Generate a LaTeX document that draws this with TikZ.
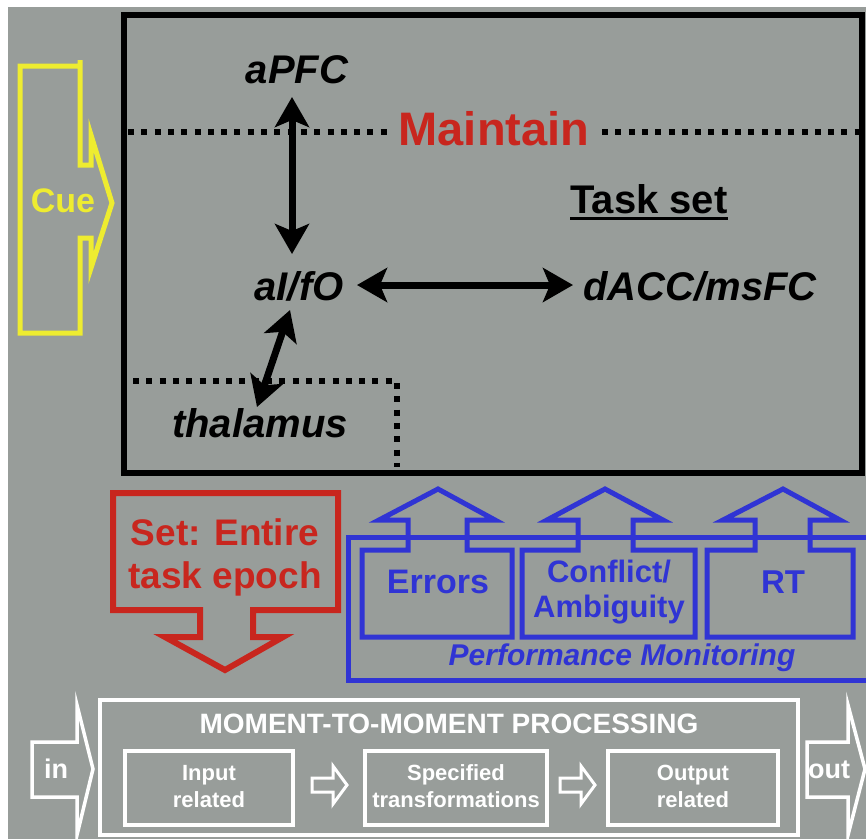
\documentclass[tikz,border=0pt]{standalone}
\usepackage{fontspec}
\setmainfont{Liberation Sans}
\usetikzlibrary{arrows.meta,calc}
\definecolor{bg}{RGB}{152,157,154}
\definecolor{cueyellow}{RGB}{238,236,48}
\definecolor{setred}{RGB}{200,38,30}
\definecolor{pmblue}{RGB}{48,52,212}
\begin{document}
\begin{tikzpicture}[x=1pt,y=-1pt,
  region/.style={font=\bfseries\itshape\fontsize{40}{44}\selectfont,inner sep=0pt,anchor=base},
  dbl/.style={line width=7pt,{Stealth[length=30pt,width=34pt,inset=7pt]}-{Stealth[length=30pt,width=34pt,inset=7pt]}},
  dots/.style={line width=6pt,dash pattern=on 6pt off 7.3pt,line cap=butt},
  cueshape/.style={draw=cueyellow,line width=5pt,line join=miter},
  redshape/.style={draw=setred,line width=6pt,line join=miter},
  blueshape/.style={draw=pmblue,line width=5pt,line join=miter},
  whiteshape/.style={draw=white,line width=3.5pt,line join=miter},
  bluetxt/.style={text=pmblue,inner sep=0pt,anchor=base,font=\bfseries\fontsize{33}{36}\selectfont},
  whitetxt/.style={text=white,inner sep=0pt,anchor=base,font=\bfseries\fontsize{22}{26}\selectfont}]
\useasboundingbox (0,0) rectangle (866,839);
\fill[white] (0,0) rectangle (866,839);
\fill[bg] (8,7) rectangle (866,839);

% task set box
\draw[line width=6pt] (124,15) rectangle (862,473);
\draw[dots] (128,132) -- (392,132);
\draw[dots] (602,132) -- (862,132);
\draw[dots] (133,381) -- (397,381) -- (397,467);

\node[region] (apfc) at (297,83) {aPFC};
\node[region] (aifo) at (299,300) {aI/fO};
\node[region] (dacc) at (700,300) {dACC/msFC};
\node[region] (thal) at (260,437) {thalamus};
\node[inner sep=0pt,anchor=base,text=setred,font=\bfseries\fontsize{47}{50}\selectfont] (maint) at (494,145) {Maintain};
\node[inner sep=0pt,anchor=base,font=\bfseries\fontsize{40}{44}\selectfont] (tset) at (649,213) {Task set};
\draw[line width=3pt] ($(tset.base west)+(0,5)$) -- ($(tset.base east)+(0,5)$);

\coordinate (v1) at (292,97);
\coordinate (v2) at (292,254);
\coordinate (h1) at (357,285);
\coordinate (h2) at (573,285);
\coordinate (d1) at (290,310);
\coordinate (d2) at (257,407);
\draw[dbl] (v1) -- (v2);
\draw[dbl] (h1) -- (h2);
\draw[dbl] (d1) -- (d2);

% cue arrow
\draw[cueshape] (80,60) -- (80,165) -- (91,165) -- (91,135) -- (112,203) -- (91,268) -- (91,238) -- (80,238) -- (80,333) -- (20,333) -- (20,66) -- (80,66);
\node[inner sep=0pt,anchor=base,text=cueyellow,font=\bfseries\fontsize{34}{36}\selectfont] (cue) at (63,212) {Cue};

% set arrow
\draw[redshape] (113,493) -- (338,493) -- (338,610) -- (253,610) -- (253,637) -- (283,637) -- (225,670) -- (165,637) -- (200,637) -- (200,610) -- (113,610) -- cycle;
\node[inner sep=0pt,anchor=base,text=setred,font=\bfseries\fontsize{37}{40}\selectfont] (setl1) at (225,545) {Set: Entire};
\node[inner sep=0pt,anchor=base,text=setred,font=\bfseries\fontsize{37}{40}\selectfont] (setl2) at (225,588) {task epoch};

% performance monitoring
\draw[blueshape] (870,537) -- (348,537) -- (348,680) -- (870,680);
\draw[blueshape] (362,550) -- (408,550) -- (408,520) -- (379,520) -- (438,489) -- (495,520) -- (467,520) -- (467,550) -- (512,550) -- (512,637) -- (362,637) -- cycle;
\draw[blueshape] (522,550) -- (578,550) -- (578,520) -- (547,520) -- (605,489) -- (663,520) -- (633,520) -- (633,550) -- (695,550) -- (695,637) -- (522,637) -- cycle;
\draw[blueshape] (707,550) -- (755,550) -- (755,520) -- (723,520) -- (783,489) -- (840,520) -- (810,520) -- (810,550) -- (853,550) -- (853,637) -- (707,637) -- cycle;
\node[bluetxt,font=\bfseries\fontsize{34}{36}\selectfont] (err) at (438,593) {Errors};
\node[bluetxt,font=\bfseries\fontsize{31}{34}\selectfont] (conf) at (609,582) {Conflict/};
\node[bluetxt,font=\bfseries\fontsize{31}{34}\selectfont] (amb) at (609,617) {Ambiguity};
\node[bluetxt] (rt) at (783,593) {RT};
\node[bluetxt,font=\bfseries\itshape\fontsize{30}{32}\selectfont] (pm) at (622,665) {Performance Monitoring};

% moment-to-moment processing
\draw[whiteshape] (100,700) rectangle (798,835);
\node[whitetxt,font=\bfseries\fontsize{28}{30}\selectfont] (mmp) at (449,733) {MOMENT-TO-MOMENT PROCESSING};
\draw[whiteshape] (125,751) rectangle (293,825);
\draw[whiteshape] (365,751) rectangle (547,825);
\draw[whiteshape] (608,751) rectangle (778,825);
\node[whitetxt] (in1) at (209,780) {Input};
\node[whitetxt] (in2) at (209,807) {related};
\node[whitetxt] (sp1) at (456,780) {Specified};
\node[whitetxt] (sp2) at (456,807) {transformations};
\node[whitetxt] (ou1) at (693,780) {Output};
\node[whitetxt] (ou2) at (693,807) {related};
\draw[whiteshape,line width=3pt] (312,778) -- (333,778) -- (333,766) -- (347,785) -- (333,804) -- (333,792) -- (312,792) -- cycle;
\draw[whiteshape,line width=3pt] (560,778) -- (581,778) -- (581,766) -- (595,785) -- (581,804) -- (581,792) -- (560,792) -- cycle;
\draw[whiteshape] (32,742) -- (77,742) -- (77,705) -- (93,769) -- (77,835) -- (77,797) -- (32,797) -- cycle;
\draw[whiteshape] (807,742) -- (848,742) -- (848,705) -- (865,769) -- (848,835) -- (848,797) -- (807,797) -- cycle;
\node[whitetxt,font=\bfseries\fontsize{27}{30}\selectfont] (inl) at (56,778) {in};
\node[whitetxt,font=\bfseries\fontsize{27}{30}\selectfont] (outl) at (829,778) {out};
\end{tikzpicture}
\end{document}
